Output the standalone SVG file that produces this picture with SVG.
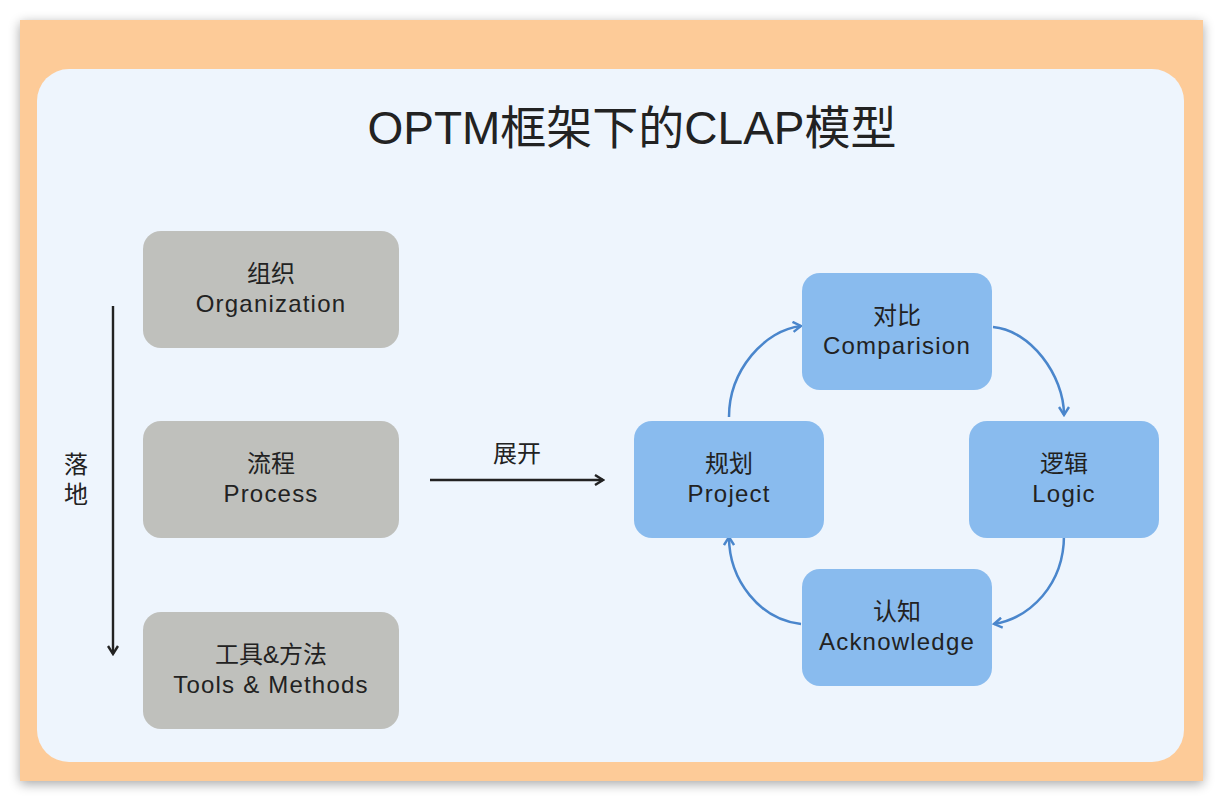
<svg xmlns="http://www.w3.org/2000/svg" width="1223" height="801" viewBox="0 0 1223 801">
<defs>
<filter id="sh" x="-5%" y="-5%" width="110%" height="110%">
<feGaussianBlur in="SourceAlpha" stdDeviation="6"/>
<feOffset dx="0" dy="3"/>
<feComponentTransfer><feFuncA type="linear" slope="0.35"/></feComponentTransfer>
<feMerge><feMergeNode/><feMergeNode in="SourceGraphic"/></feMerge>
</filter>
<marker id="ab" viewBox="0 0 12 12" refX="10" refY="6" markerWidth="12" markerHeight="12" markerUnits="userSpaceOnUse" orient="auto">
<path d="M2,1 L10,6 L2,11" fill="none" stroke="#222" stroke-width="2.4"/>
</marker>
<marker id="abl" viewBox="0 0 12 12" refX="10" refY="6" markerWidth="12" markerHeight="12" markerUnits="userSpaceOnUse" orient="auto">
<path d="M2,1 L10,6 L2,11" fill="none" stroke="#4A86CC" stroke-width="2.4"/>
</marker>
</defs>
<style>
text{font-family:"Liberation Sans","Noto Sans CJK SC",sans-serif;fill:#222;text-anchor:middle}
.t{font-size:24px}
.e{font-size:24px;letter-spacing:1.2px}
.gray{fill:#BFC0BC}
.blue{fill:#89BBEE}
.bl{fill:none;stroke:#4A86CC;stroke-width:2.5}
.bk{fill:none;stroke:#222;stroke-width:2.4}
</style>
<rect width="1223" height="801" fill="#ffffff"/>
<rect x="20" y="20" width="1183" height="761" fill="#FDCB98" filter="url(#sh)"/>
<rect x="37" y="69" width="1147" height="693" rx="32" fill="#EEF5FD"/>
<text x="632" y="144" style="font-size:46px">OPTM框架下的CLAP模型</text>

<g id="connectors">
<line x1="113" y1="306" x2="113" y2="654" class="bk" marker-end="url(#ab)"/>
<text x="76" y="473" class="t">落</text>
<text x="76" y="503" class="t">地</text>
<line x1="430" y1="480" x2="603" y2="480" class="bk" marker-end="url(#ab)"/>
<text x="517" y="462" class="t">展开</text>
<path d="M729,417 C729,370 765,330 801,326" class="bl" marker-end="url(#abl)"/>
<path d="M993,327 C1030,330 1064,375 1064,415" class="bl" marker-end="url(#abl)"/>
<path d="M1064,535 C1064,585 1030,618 994,624" class="bl" marker-end="url(#abl)"/>
<path d="M801,624 C760,620 729,580 729,537" class="bl" marker-end="url(#abl)"/>
</g>

<g id="n-org"><rect x="143" y="231" width="256" height="117" rx="18" class="gray"/><text x="271" y="282" class="t">组织</text><text x="271" y="312" class="e">Organization</text></g>
<g id="n-proc"><rect x="143" y="421" width="256" height="117" rx="18" class="gray"/><text x="271" y="472" class="t">流程</text><text x="271" y="502" class="e">Process</text></g>
<g id="n-tools"><rect x="143" y="612" width="256" height="117" rx="18" class="gray"/><text x="271" y="663" class="t">工具&amp;方法</text><text x="271" y="693" class="e">Tools &amp; Methods</text></g>

<g id="n-comp"><rect x="802" y="273" width="190" height="117" rx="18" class="blue"/><text x="897" y="324" class="t">对比</text><text x="897" y="354" class="e">Comparision</text></g>
<g id="n-proj"><rect x="634" y="421" width="190" height="117" rx="18" class="blue"/><text x="729" y="472" class="t">规划</text><text x="729" y="502" class="e">Project</text></g>
<g id="n-logic"><rect x="969" y="421" width="190" height="117" rx="18" class="blue"/><text x="1064" y="472" class="t">逻辑</text><text x="1064" y="502" class="e">Logic</text></g>
<g id="n-ack"><rect x="802" y="569" width="190" height="117" rx="18" class="blue"/><text x="897" y="620" class="t">认知</text><text x="897" y="650" class="e">Acknowledge</text></g>
</svg>
